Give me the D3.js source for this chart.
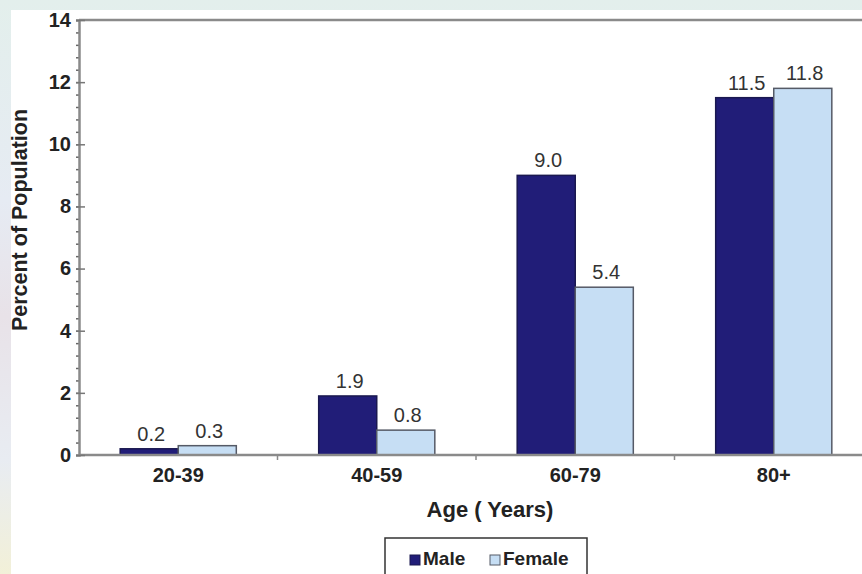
<!DOCTYPE html>
<html><head><meta charset="utf-8">
<script src="https://d3js.org/d3.v7.min.js"></script>
<style>
html,body{margin:0;padding:0;background:#fff;}
svg{display:block;}
text{font-family:Arial,"Liberation Sans",Helvetica,sans-serif;}
</style></head>
<body>
<svg id="chart" width="862" height="574"></svg>
<script>
const categories = ["20-39", "40-59", "60-79", "80+"];
const series = ["Male", "Female"];
const maleValues = [0.2, 1.9, 9.0, 11.5];
const femaleValues = [0.3, 0.8, 5.4, 11.8];
const yTicks = [0, 2, 4, 6, 8, 10, 12, 14];
const colors = {Male: "#211d78", Female: "#c6def4"};
const strokes = {Male: "#1a1850", Female: "#555a66"};

const svg = d3.select("#chart");

const defs = svg.append("defs");
const grad = defs.append("linearGradient").attr("id", "bg").attr("x1", 0).attr("y1", 0).attr("x2", 0).attr("y2", 1);
grad.append("stop").attr("offset", "0%").attr("stop-color", "#e3efec");
grad.append("stop").attr("offset", "35%").attr("stop-color", "#e6ebf3");
grad.append("stop").attr("offset", "55%").attr("stop-color", "#e8e2e8");
grad.append("stop").attr("offset", "80%").attr("stop-color", "#e8ecf2");
grad.append("stop").attr("offset", "100%").attr("stop-color", "#f2f0d8");
svg.append("rect").attr("width", 862).attr("height", 574).attr("fill", "url(#bg)");
svg.append("rect").attr("x", 11).attr("y", 10).attr("width", 851).attr("height", 564).attr("fill", "#ffffff");

const y = d3.scaleLinear().domain([0, 14]).range([455, 20]);
const x0 = d3.scaleBand().domain(categories).range([79, 873]).paddingInner(0.415).paddingOuter(0.2075);
const x1 = d3.scaleBand().domain(series).range([0, x0.bandwidth()]);

svg.append("line").attr("x1", 79).attr("x2", 862).attr("y1", y(14)).attr("y2", y(14))
  .attr("stroke", "#8a8a8a").attr("stroke-width", 2.5);

const data = categories.map((c, i) => ({cat: c, vals: [{s: "Male", v: maleValues[i]}, {s: "Female", v: femaleValues[i]}]}));
const groups = svg.append("g").selectAll("g").data(data).join("g")
  .attr("transform", d => `translate(${x0(d.cat)},0)`);
groups.selectAll("rect").data(d => d.vals).join("rect")
  .attr("x", d => x1(d.s))
  .attr("y", d => y(d.v))
  .attr("width", x1.bandwidth())
  .attr("height", d => y(0) - y(d.v))
  .attr("fill", d => colors[d.s])
  .attr("stroke", d => strokes[d.s])
  .attr("stroke-width", 1.5);
groups.selectAll("text").data(d => d.vals).join("text")
  .attr("x", d => x1(d.s) + x1.bandwidth() / 2 + 2)
  .attr("y", d => y(d.v) - 8)
  .attr("text-anchor", "middle")
  .attr("font-size", 20)
  .attr("fill", "#333")
  .text(d => d.v.toFixed(1));

svg.append("line").attr("x1", 79).attr("x2", 862).attr("y1", y(0)).attr("y2", y(0))
  .attr("stroke", "#8a8a8a").attr("stroke-width", 2.5);
const bounds = d3.range(1, categories.length).map(i => 79 + i * x0.step());
svg.append("g").selectAll("line").data(bounds).join("line")
  .attr("x1", d => d).attr("x2", d => d).attr("y1", y(0)).attr("y2", y(0) + 5)
  .attr("stroke", "#8a8a8a").attr("stroke-width", 1.5);

const xAxis = svg.append("g").attr("transform", `translate(0,${y(0)})`)
  .call(d3.axisBottom(x0).tickSize(0).tickPadding(13));
xAxis.select(".domain").remove();
xAxis.selectAll("text").attr("font-size", 20).attr("font-weight", "bold").attr("fill", "#222")
  .attr("font-family", "Arial, 'Liberation Sans', sans-serif");

const minor = svg.append("g").attr("transform", "translate(79,0)")
  .call(d3.axisLeft(y).tickValues(d3.range(0, 14.001, 0.4)).tickSize(3).tickFormat(""));
minor.select(".domain").remove();
minor.selectAll("line").attr("stroke", "#666").attr("stroke-width", 1.5);

const yAxis = svg.append("g").attr("transform", "translate(79,0)")
  .call(d3.axisLeft(y).tickValues(yTicks).tickSize(3).tickPadding(5));
yAxis.select(".domain").attr("stroke", "#8a8a8a").attr("stroke-width", 2.5);
yAxis.selectAll(".tick line").attr("x1", 6).attr("x2", -3).attr("stroke", "#777").attr("stroke-width", 1.5);
yAxis.selectAll("text").attr("font-size", 20).attr("font-weight", "bold").attr("fill", "#222")
  .attr("font-family", "Arial, 'Liberation Sans', sans-serif");

svg.append("text").attr("x", 490).attr("y", 517).attr("text-anchor", "middle")
  .attr("font-size", 22).attr("font-weight", "bold").attr("fill", "#222").text("Age ( Years)");
svg.append("text").attr("transform", "translate(27,220) rotate(-90)").attr("text-anchor", "middle")
  .attr("font-size", 21.5).attr("font-weight", "bold").attr("fill", "#222").text("Percent of Population");

const legend = svg.append("g");
legend.append("rect").attr("x", 385).attr("y", 538).attr("width", 202).attr("height", 60)
  .attr("fill", "#fff").attr("stroke", "#333").attr("stroke-width", 1.5);
const legendX = [410, 490];
const items = legend.selectAll("g").data(series).join("g")
  .attr("transform", (d, i) => `translate(${legendX[i]},555)`);
items.append("rect").attr("width", 10).attr("height", 10)
  .attr("fill", d => colors[d]).attr("stroke", d => strokes[d]).attr("stroke-width", 1);
items.append("text").attr("x", 13).attr("y", 10).attr("font-size", 19).attr("font-weight", "bold")
  .attr("fill", "#222").text(d => d);
</script>
</body></html>
